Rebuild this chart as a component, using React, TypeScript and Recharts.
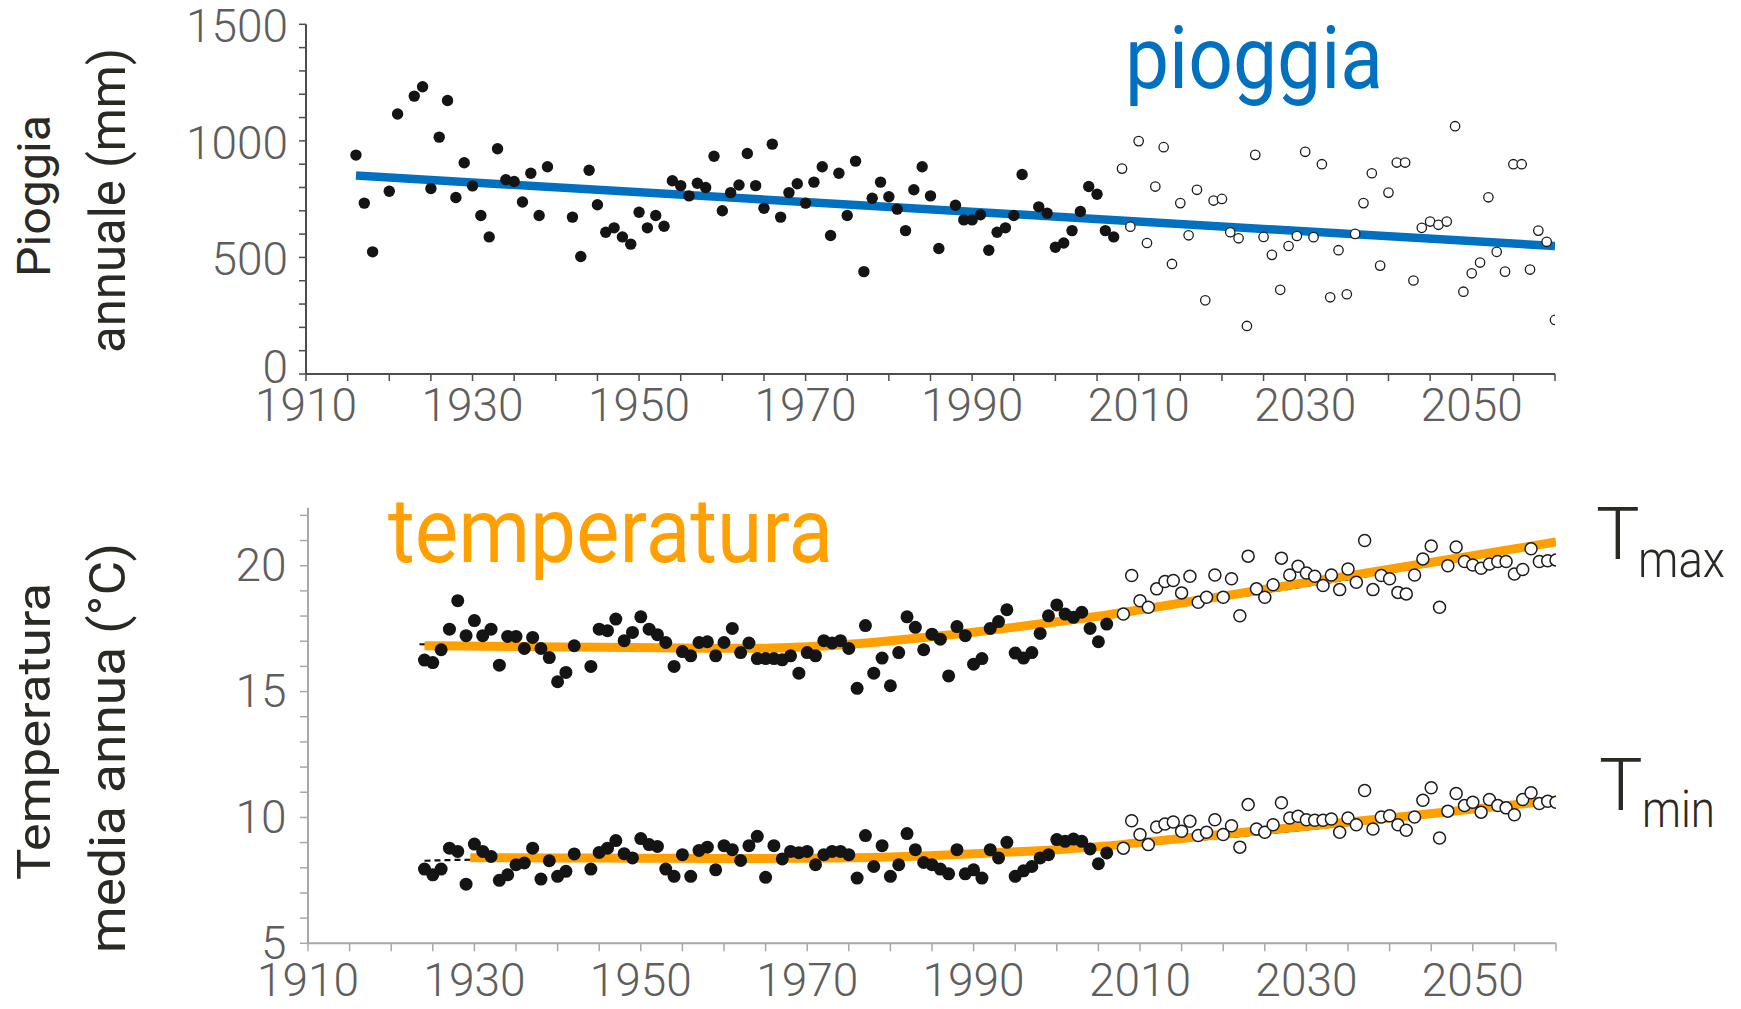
import React from 'react';
import { ComposedChart, Scatter, Line, XAxis, YAxis } from 'recharts';

// Annual rainfall (mm): observed years and projected years
const rainObserved: [number, number][] = [
  [1916, 939], [1917, 733], [1918, 524], [1920, 784], [1921, 1115], [1923, 1192], [1924, 1232],
  [1925, 796], [1926, 1016], [1927, 1173], [1928, 757], [1929, 906], [1930, 807], [1931, 680],
  [1932, 588], [1933, 966], [1934, 833], [1935, 826], [1936, 738], [1937, 861], [1938, 680],
  [1939, 889], [1942, 673], [1943, 504], [1944, 874], [1945, 726], [1946, 608], [1947, 627],
  [1948, 588], [1949, 557], [1950, 694], [1951, 627], [1952, 680], [1953, 634], [1954, 829],
  [1955, 808], [1956, 764], [1957, 818], [1958, 800], [1959, 934], [1960, 700], [1961, 778],
  [1962, 811], [1963, 946], [1964, 808], [1965, 711], [1966, 986], [1967, 673], [1968, 778],
  [1969, 816], [1970, 733], [1971, 823], [1972, 889], [1973, 594], [1974, 861], [1975, 680],
  [1976, 913], [1977, 439], [1978, 754], [1979, 823], [1980, 760], [1981, 707], [1982, 615],
  [1983, 790], [1984, 889], [1985, 764], [1986, 538], [1988, 724], [1989, 661], [1990, 661],
  [1991, 683], [1992, 531], [1993, 608], [1994, 627], [1995, 680], [1996, 856], [1998, 717],
  [1999, 690], [2000, 544], [2001, 562], [2002, 615], [2003, 697], [2004, 804], [2005, 771],
  [2006, 615], [2007, 588],
];

const rainProjected: [number, number][] = [
  [2008, 881], [2009, 632], [2010, 999], [2011, 562], [2012, 804], [2013, 973], [2014, 472],
  [2015, 733], [2016, 595], [2017, 790], [2018, 316], [2019, 744], [2020, 751], [2021, 608],
  [2022, 582], [2023, 206], [2024, 940], [2025, 588], [2026, 511], [2027, 361], [2028, 549],
  [2029, 592], [2030, 953], [2031, 587], [2032, 900], [2033, 329], [2034, 531], [2035, 342],
  [2036, 601], [2037, 733], [2038, 861], [2039, 465], [2040, 778], [2041, 907], [2042, 907],
  [2043, 401], [2044, 627], [2045, 654], [2046, 640], [2047, 654], [2048, 1063], [2049, 353],
  [2050, 432], [2051, 478], [2052, 758], [2053, 524], [2054, 439], [2055, 900], [2056, 900],
  [2057, 448], [2058, 615], [2059, 567], [2060, 232],
];

const rainTrend: [number, number][] = [[1916, 851], [2060, 549]];

// Mean annual maximum temperature (°C)
const tmaxObserved: [number, number][] = [
  [1924, 16.25], [1925, 16.15], [1926, 16.66], [1927, 17.48], [1928, 18.61], [1929, 17.22],
  [1930, 17.82], [1931, 17.22], [1932, 17.48], [1933, 16.05], [1934, 17.19], [1935, 17.19],
  [1936, 16.71], [1937, 17.15], [1938, 16.71], [1939, 16.35], [1940, 15.39], [1941, 15.76],
  [1942, 16.82], [1944, 16.0], [1945, 17.48], [1946, 17.42], [1947, 17.88], [1948, 17.02],
  [1949, 17.35], [1950, 17.97], [1951, 17.48], [1952, 17.26], [1953, 16.95], [1954, 16.0],
  [1955, 16.59], [1956, 16.42], [1957, 16.95], [1958, 16.98], [1959, 16.42], [1960, 16.95],
  [1961, 17.51], [1962, 16.55], [1963, 16.93], [1964, 16.31], [1965, 16.31], [1966, 16.31],
  [1967, 16.26], [1968, 16.42], [1969, 15.73], [1970, 16.55], [1971, 16.42], [1972, 17.02],
  [1973, 16.93], [1974, 17.02], [1975, 16.71], [1976, 15.13], [1977, 17.62], [1978, 15.73],
  [1979, 16.33], [1980, 15.23], [1981, 16.55], [1982, 17.97], [1983, 17.55], [1984, 16.66],
  [1985, 17.28], [1986, 17.08], [1987, 15.62], [1988, 17.58], [1989, 17.22], [1990, 16.09],
  [1991, 16.31], [1992, 17.51], [1993, 17.78], [1994, 18.25], [1995, 16.53], [1996, 16.33],
  [1997, 16.55], [1998, 17.31], [1999, 18.01], [2000, 18.44], [2001, 18.08], [2002, 17.95],
  [2003, 18.15], [2004, 17.51], [2005, 16.98], [2006, 17.68],
];

const tmaxProjected: [number, number][] = [
  [2008, 18.08], [2009, 19.61], [2010, 18.61], [2011, 18.35], [2012, 19.08], [2013, 19.37],
  [2014, 19.41], [2015, 18.92], [2016, 19.58], [2017, 18.55], [2018, 18.75], [2019, 19.63],
  [2020, 18.75], [2021, 19.48], [2022, 18.01], [2023, 20.38], [2024, 19.08], [2025, 18.75],
  [2026, 19.24], [2027, 20.3], [2028, 19.63], [2029, 19.98], [2030, 19.71], [2031, 19.58],
  [2032, 19.21], [2033, 19.63], [2034, 19.05], [2035, 19.87], [2036, 19.34], [2037, 21.0],
  [2038, 19.05], [2039, 19.61], [2040, 19.48], [2041, 18.94], [2042, 18.88], [2043, 19.63],
  [2044, 20.27], [2045, 20.78], [2046, 18.35], [2047, 20.0], [2048, 20.74], [2049, 20.17],
  [2050, 20.03], [2051, 19.9], [2052, 20.07], [2053, 20.17], [2054, 20.17], [2055, 19.67],
  [2056, 19.85], [2057, 20.67], [2058, 20.17], [2059, 20.2], [2060, 20.23],
];

// Mean annual minimum temperature (°C)
const tminObserved: [number, number][] = [
  [1924, 7.95], [1925, 7.72], [1926, 7.95], [1927, 8.78], [1928, 8.65], [1929, 7.35],
  [1930, 8.94], [1931, 8.65], [1932, 8.45], [1933, 7.5], [1934, 7.72], [1935, 8.12],
  [1936, 8.19], [1937, 8.78], [1938, 7.55], [1939, 8.28], [1940, 7.66], [1941, 7.86],
  [1942, 8.55], [1944, 7.95], [1945, 8.61], [1946, 8.78], [1947, 9.08], [1948, 8.56],
  [1949, 8.39], [1950, 9.16], [1951, 8.92], [1952, 8.85], [1953, 7.95], [1954, 7.66],
  [1955, 8.52], [1956, 7.66], [1957, 8.69], [1958, 8.82], [1959, 7.92], [1960, 8.88],
  [1961, 8.72], [1962, 8.29], [1963, 8.88], [1964, 9.25], [1965, 7.62], [1966, 8.88],
  [1967, 8.35], [1968, 8.65], [1969, 8.6], [1970, 8.65], [1971, 8.12], [1972, 8.52],
  [1973, 8.65], [1974, 8.65], [1975, 8.52], [1976, 7.59], [1977, 9.28], [1978, 8.05],
  [1979, 8.88], [1980, 7.66], [1981, 8.12], [1982, 9.36], [1983, 8.72], [1984, 8.21],
  [1985, 8.12], [1986, 7.95], [1987, 7.76], [1988, 8.72], [1989, 7.76], [1990, 7.92],
  [1991, 7.59], [1992, 8.72], [1993, 8.39], [1994, 9.01], [1995, 7.66], [1996, 7.88],
  [1997, 8.05], [1998, 8.39], [1999, 8.52], [2000, 9.12], [2001, 9.05], [2002, 9.14],
  [2003, 9.05], [2004, 8.75], [2005, 8.16], [2006, 8.59],
];

const tminProjected: [number, number][] = [
  [2008, 8.78], [2009, 9.87], [2010, 9.32], [2011, 8.92], [2012, 9.62], [2013, 9.74],
  [2014, 9.82], [2015, 9.45], [2016, 9.85], [2017, 9.28], [2018, 9.41], [2019, 9.91],
  [2020, 9.32], [2021, 9.67], [2022, 8.82], [2023, 10.51], [2024, 9.54], [2025, 9.41],
  [2026, 9.71], [2027, 10.58], [2028, 9.98], [2029, 10.05], [2030, 9.91], [2031, 9.89],
  [2032, 9.89], [2033, 9.94], [2034, 9.41], [2035, 9.98], [2036, 9.71], [2037, 11.07],
  [2038, 9.54], [2039, 10.02], [2040, 10.07], [2041, 9.71], [2042, 9.49], [2043, 10.02],
  [2044, 10.68], [2045, 11.18], [2046, 9.18], [2047, 10.25], [2048, 10.95], [2049, 10.47],
  [2050, 10.6], [2051, 10.21], [2052, 10.71], [2053, 10.47], [2054, 10.38], [2055, 10.11],
  [2056, 10.71], [2057, 10.98], [2058, 10.55], [2059, 10.64], [2060, 10.6],
];

// Smoothed temperature trends and the underlying dashed fits
const tmaxSmooth: [number, number][] = [
  [1924, 16.82], [1935, 16.79], [1945, 16.76], [1955, 16.73], [1965, 16.72], [1970, 16.78],
  [1975, 16.88], [1980, 17.02], [1985, 17.18], [1990, 17.36], [1995, 17.56], [2000, 17.77],
  [2005, 17.99], [2010, 18.25], [2020, 18.79], [2030, 19.33], [2040, 19.86], [2050, 20.4],
  [2060, 20.94],
];
const tminSmooth: [number, number][] = [
  [1929.5, 8.4], [1940, 8.39], [1950, 8.38], [1960, 8.37], [1970, 8.38], [1980, 8.43],
  [1990, 8.56], [2000, 8.72], [2005, 8.84], [2010, 9.0], [2020, 9.33], [2030, 9.65],
  [2040, 9.98], [2050, 10.33], [2060, 10.68],
];
const tmaxFit: [number, number][] = [[1923.4, 16.88], [1960, 16.68], [1990, 17.3], [2005, 17.95], [2060, 20.85]];
const tminFit: [number, number][] = [[1924, 8.28], [1930, 8.32], [1960, 8.33], [1990, 8.5], [2005, 8.8], [2060, 10.62]];

const yearTicks = Array.from({ length: 31 }, (_, i) => 1910 + i * 5);
const rainTicks = Array.from({ length: 16 }, (_, i) => i * 100);
const tempTicks = Array.from({ length: 18 }, (_, i) => 5 + i);

const rows = (pts: [number, number][]) => pts.map(([year, v]) => ({ year, v }));

const FONT = 'Roboto, "Liberation Sans", sans-serif';
const LABEL_GRAY = '#5e5e5e';
const TITLE_DARK = '#2a2924';
const BLUE = '#0070C0';
const ORANGE = '#FFA000';

const filledDot = (r: number) => (p: any) => <circle cx={p.cx} cy={p.cy} r={r} fill="#141414" />;
const openDot = (r: number, w: number) => (p: any) => (
  <circle cx={p.cx} cy={p.cy} r={r} fill="#ffffff" stroke="#1c1c1c" strokeWidth={w} />
);

const yearTick = (offset: number) => (p: any) => {
  const v = p.payload.value;
  if (v % 20 !== 10) return <g />;
  return (
    <text x={p.x} y={p.y + offset} textAnchor="middle" fontSize={46} fontWeight={300} fill={LABEL_GRAY} fontFamily={FONT}>
      {v}
    </text>
  );
};

const rainTick = (p: any) => {
  const v = p.payload.value;
  if (v % 500 !== 0) return <g />;
  const dy = v === 0 ? 9 : 18;
  return (
    <text x={p.x} y={p.y + dy} textAnchor="end" fontSize={46} fontWeight={300} fill={LABEL_GRAY} fontFamily={FONT}>
      {v}
    </text>
  );
};

const tempTick = (p: any) => {
  const v = p.payload.value;
  if (v % 5 !== 0) return <g />;
  return (
    <text x={p.x} y={p.y + 15.5} textAnchor="end" fontSize={46} fontWeight={300} fill={LABEL_GRAY} fontFamily={FONT}>
      {v}
    </text>
  );
};

function RainChart() {
  const axis = { stroke: '#4d4d4d', strokeWidth: 2 };
  return (
    <ComposedChart width={1741} height={440} margin={{ top: 24.3, right: 186, bottom: 6, left: 0 }}>
      <XAxis
        type="number"
        dataKey="year"
        domain={[1910, 2060]}
        ticks={yearTicks}
        interval={0}
        allowDataOverflow
        height={60}
        tickSize={7}
        tickMargin={0}
        axisLine={axis}
        tickLine={{ stroke: '#4d4d4d', strokeWidth: 1.5 }}
        tick={yearTick(40)}
      />
      <YAxis
        type="number"
        dataKey="v"
        domain={[0, 1500]}
        ticks={rainTicks}
        interval={0}
        allowDataOverflow
        width={306}
        tickSize={7}
        tickMargin={11}
        axisLine={axis}
        tickLine={{ stroke: '#4d4d4d', strokeWidth: 1.5 }}
        tick={rainTick}
      />
      <Scatter data={rows(rainObserved)} shape={filledDot(5.7)} isAnimationActive={false} />
      <Scatter data={rows(rainProjected)} shape={openDot(4.7, 1.3)} isAnimationActive={false} />
      <Line
        data={rows(rainTrend)}
        dataKey="v"
        type="linear"
        stroke={BLUE}
        strokeWidth={8.5}
        dot={false}
        activeDot={false}
        isAnimationActive={false}
      />
    </ComposedChart>
  );
}

function TempChart() {
  const axis = { stroke: '#a8a8a8', strokeWidth: 2 };
  const curve = (pts: [number, number][]) => (
    <Line
      data={rows(pts)}
      dataKey="v"
      type="monotone"
      stroke={ORANGE}
      strokeWidth={9}
      dot={false}
      activeDot={false}
      isAnimationActive={false}
    />
  );
  const fit = (pts: [number, number][]) => (
    <Line
      data={rows(pts)}
      dataKey="v"
      type="monotone"
      stroke="#111"
      strokeWidth={2.2}
      strokeDasharray="6 4"
      dot={false}
      activeDot={false}
      isAnimationActive={false}
    />
  );
  return (
    <ComposedChart width={1741} height={569} margin={{ top: 67.8, right: 185, bottom: 5.7, left: 0 }}>
      <XAxis
        type="number"
        dataKey="year"
        domain={[1910, 2060]}
        ticks={yearTicks}
        interval={0}
        allowDataOverflow
        height={60}
        tickSize={8}
        tickMargin={0}
        axisLine={axis}
        tickLine={{ stroke: '#a8a8a8', strokeWidth: 1.5 }}
        tick={yearTick(44.4)}
      />
      <YAxis
        type="number"
        dataKey="v"
        domain={[5, 22.3]}
        ticks={tempTicks}
        interval={0}
        allowDataOverflow
        width={308}
        tickSize={8}
        tickMargin={13.5}
        axisLine={axis}
        tickLine={{ stroke: '#a8a8a8', strokeWidth: 1.5 }}
        tick={tempTick}
      />
      <Scatter data={rows(tmaxObserved)} shape={filledDot(6.5)} isAnimationActive={false} />
      <Scatter data={rows(tminObserved)} shape={filledDot(6.5)} isAnimationActive={false} />
      <Scatter data={rows(tmaxProjected)} shape={openDot(6, 1.5)} isAnimationActive={false} />
      <Scatter data={rows(tminProjected)} shape={openDot(6, 1.5)} isAnimationActive={false} />
      {fit(tmaxFit)}
      {fit(tminFit)}
      {curve(tmaxSmooth)}
      {curve(tminSmooth)}
    </ComposedChart>
  );
}

function VerticalTitle({ x, cy, text, size, length }: { x: number; cy: number; text: string; size: number; length: number }) {
  return (
    <text
      transform={`translate(${x},${cy}) rotate(-90)`}
      textAnchor="middle"
      fontSize={size}
      fill={TITLE_DARK}
      fontFamily={FONT}
      textLength={length}
      lengthAdjust="spacingAndGlyphs"
    >
      {text}
    </text>
  );
}

function Annotations() {
  return (
    <svg width={1741} height={1009} style={{ position: 'absolute', left: 0, top: 0, pointerEvents: 'none' }}>
      <VerticalTitle x={50} cy={196} text="Pioggia" size={46} length={162} />
      <VerticalTitle x={125} cy={200.5} text="annuale (mm)" size={50} length={305} />
      <VerticalTitle x={50} cy={731.5} text="Temperatura" size={46} length={297} />
      <VerticalTitle x={125} cy={748} text="media annua (°C)" size={50} length={410} />

      <text x={1125} y={88} fontSize={88} fill={BLUE} fontFamily={FONT} textLength={258} lengthAdjust="spacingAndGlyphs">
        pioggia
      </text>
      <text x={388} y={562} fontSize={90} fill={ORANGE} fontFamily={FONT} textLength={445} lengthAdjust="spacingAndGlyphs">
        temperatura
      </text>

      <text x={1596} y={559} fontSize={73} fontWeight={300} fill={TITLE_DARK} fontFamily={FONT}>T</text>
      <text x={1638} y={577} fontSize={52} fontWeight={300} fill={TITLE_DARK} fontFamily={FONT} textLength={87} lengthAdjust="spacingAndGlyphs">
        max
      </text>
      <text x={1599} y={810} fontSize={73} fontWeight={300} fill={TITLE_DARK} fontFamily={FONT}>T</text>
      <text x={1642} y={827} fontSize={52} fontWeight={300} fill={TITLE_DARK} fontFamily={FONT} textLength={73} lengthAdjust="spacingAndGlyphs">
        min
      </text>
    </svg>
  );
}

export default function App() {
  return (
    <div style={{ position: 'absolute', left: 0, top: 0, width: 1741, height: 1009, background: '#ffffff', overflow: 'hidden' }}>
      <div style={{ position: 'absolute', left: 0, top: 0 }}>
        <RainChart />
      </div>
      <div style={{ position: 'absolute', left: 0, top: 440 }}>
        <TempChart />
      </div>
      <Annotations />
    </div>
  );
}
